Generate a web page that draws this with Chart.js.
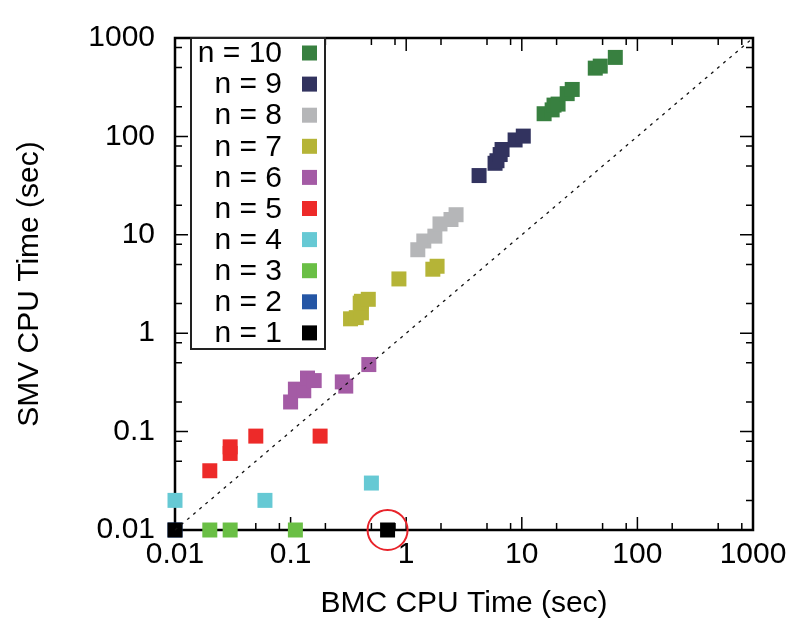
<!DOCTYPE html>
<html>
<head>
<meta charset="utf-8">
<script src="https://cdn.jsdelivr.net/npm/chart.js@4/dist/chart.umd.min.js"></script>
<style>
  html, body { margin: 0; padding: 0; background: #fff; }
  #wrap { width: 795px; height: 630px; }
</style>
</head>
<body>
<div id="wrap"><canvas id="cpuChart" width="795" height="630"></canvas></div>
<script>
// ------------------ DATA ------------------
// BMC time (x) vs SMV time (y), seconds, one pair of arrays per n
const bmcN1 = [0.01, 0.69];
const smvN1 = [0.01, 0.01];
const bmcN2 = [0.01];
const smvN2 = [0.01];
const bmcN3 = [0.02, 0.03, 0.11];
const smvN3 = [0.01, 0.01, 0.01];
const bmcN4 = [0.01, 0.06, 0.5];
const smvN4 = [0.02, 0.02, 0.03];
const bmcN5 = [0.02, 0.03, 0.03, 0.05, 0.18];
const smvN5 = [0.04, 0.06, 0.07, 0.09, 0.09];
const bmcN6 = [0.1, 0.11, 0.13, 0.14, 0.16, 0.28, 0.30, 0.475];
const smvN6 = [0.2, 0.27, 0.26, 0.35, 0.33, 0.32, 0.29, 0.48];
const bmcN7 = [0.33, 0.37, 0.41, 0.40, 0.41, 0.47, 0.865, 1.70, 1.85];
const smvN7 = [1.40, 1.44, 1.61, 2.02, 2.11, 2.21, 3.56, 4.47, 4.79];
const bmcN8 = [1.26, 1.42, 1.77, 1.96, 2.44, 2.70];
const smvN8 = [7.05, 8.65, 9.69, 12.9, 14.3, 16.0];
const bmcN9 = [4.27, 5.87, 6.1, 6.5, 6.75, 8.75, 10.3];
const smvN9 = [40, 53.3, 56.6, 65.4, 73.6, 92, 100.7];
const bmcN10 = [15.6, 18.3, 19.0, 20.6, 24.7, 27.3, 43.2, 47.7, 64.4];
const smvN10 = [170, 186, 208, 213, 272, 300, 494, 518, 635];

const seriesLabels = ['n = 1', 'n = 2', 'n = 3', 'n = 4', 'n = 5', 'n = 6', 'n = 7', 'n = 8', 'n = 9', 'n = 10'];
const seriesColors = ['#000000', '#2556a5', '#6abf45', '#66c9d4', '#ed2a29', '#a45ba5', '#b5b437', '#b5b6b8', '#32335f', '#388040'];
const bmcSeries = [bmcN1, bmcN2, bmcN3, bmcN4, bmcN5, bmcN6, bmcN7, bmcN8, bmcN9, bmcN10];
const smvSeries = [smvN1, smvN2, smvN3, smvN4, smvN5, smvN6, smvN7, smvN8, smvN9, smvN10];

// diagonal y = x and the circled point
const diagX = [0.01, 1000];
const diagY = [0.01, 1000];
const circledX = [0.69];
const circledY = [0.01];

const majorTicks = [0.01, 0.1, 1, 10, 100, 1000];
const minorMantissas = [2, 5, 8];

const FONT = '"Liberation Sans", Arial, Helvetica, sans-serif';

function toPoints(xs, ys) {
    return xs.map((x, i) => ({ x: x, y: ys[i] }));
}

// ------------------ DATASETS ------------------
// index 0 is drawn last (on top)
const datasets = [
    {
        label: 'diag',
        data: toPoints(diagX, diagY),
        showLine: true,
        borderColor: '#111',
        borderWidth: 1.3,
        borderDash: [3, 5],
        pointRadius: 0,
        clip: false
    },
    {
        label: 'circle',
        data: toPoints(circledX, circledY),
        pointStyle: 'circle',
        pointRadius: 20,
        borderColor: '#e8232a',
        borderWidth: 2,
        backgroundColor: 'rgba(0,0,0,0)',
        clip: false
    }
];
seriesLabels.forEach((lbl, i) => {
    datasets.push({
        label: lbl,
        data: toPoints(bmcSeries[i], smvSeries[i]),
        pointStyle: 'rect',
        pointRadius: 10.6,
        pointHoverRadius: 10.6,
        borderWidth: 0,
        backgroundColor: seriesColors[i],
        borderColor: seriesColors[i],
        clip: false
    });
});

// ------------------ PLUGINS ------------------
// frame + inward ticks on all four sides
const framePlugin = {
    id: 'frame',
    beforeDatasetsDraw(chart) {
        const { ctx, chartArea: a, scales } = chart;
        ctx.save();
        ctx.strokeStyle = '#000';
        ctx.lineWidth = 1.5;
        const marks = [];
        majorTicks.forEach((v, k) => {
            marks.push([v, 13]);
            if (k < majorTicks.length - 1) {
                minorMantissas.forEach(m => marks.push([v * m, 7]));
            }
        });
        ctx.beginPath();
        marks.forEach(([v, len]) => {
            const px = scales.x.getPixelForValue(v);
            ctx.moveTo(px, a.bottom); ctx.lineTo(px, a.bottom - len);
            ctx.moveTo(px, a.top); ctx.lineTo(px, a.top + len);
            const py = scales.y.getPixelForValue(v);
            ctx.moveTo(a.left, py); ctx.lineTo(a.left + len, py);
            ctx.moveTo(a.right, py); ctx.lineTo(a.right - len, py);
        });
        ctx.stroke();
        ctx.lineWidth = 2.5;
        ctx.strokeRect(a.left, a.top, a.right - a.left, a.bottom - a.top);
        ctx.restore();
    }
};

// legend box inside the plot, n = 10 on top
const legendPlugin = {
    id: 'boxLegend',
    afterDraw(chart) {
        const ctx = chart.ctx;
        const boxLeft = 191, boxTop = 38, boxW = 134, rowH = 31.1, firstRow = 53;
        ctx.save();
        ctx.fillStyle = '#fff';
        ctx.fillRect(boxLeft, boxTop, boxW, 311);
        ctx.strokeStyle = '#222';
        ctx.lineWidth = 2;
        ctx.strokeRect(boxLeft, boxTop, boxW, 311);
        ctx.font = '30px ' + FONT;
        ctx.textAlign = 'right';
        ctx.textBaseline = 'middle';
        for (let i = seriesLabels.length - 1, row = 0; i >= 0; i--, row++) {
            const y = firstRow + row * rowH;
            ctx.fillStyle = '#000';
            ctx.fillText(seriesLabels[i], 282, y + 1);
            ctx.fillStyle = seriesColors[i];
            ctx.fillRect(302, y - 7.5, 15, 15);
        }
        ctx.restore();
    }
};

// ------------------ CHART ------------------
const logAxis = (titleText, isX) => ({
    type: 'logarithmic',
    min: 0.01,
    max: 1000,
    afterBuildTicks: scale => { scale.ticks = majorTicks.map(v => ({ value: v })); },
    afterFit: scale => {
        if (isX) scale.height = 100; else scale.width = 175;
    },
    grid: { display: false, drawTicks: false },
    border: { display: false },
    ticks: {
        autoSkip: false,
        maxRotation: 0,
        padding: isX ? 7 : 20,
        color: '#000',
        font: { family: FONT, size: 30 },
        callback: v => String(v)
    },
    title: {
        display: true,
        text: titleText,
        color: '#000',
        font: { family: FONT, size: 30 },
        padding: isX ? { top: 0, bottom: 8 } : { top: 12, bottom: 0 }
    }
});

new Chart(document.getElementById('cpuChart').getContext('2d'), {
    type: 'scatter',
    data: { datasets: datasets },
    options: {
        responsive: false,
        animation: false,
        layout: { padding: { left: 0, right: 42, top: 23, bottom: 0 } },
        plugins: { legend: { display: false }, tooltip: { enabled: false } },
        scales: {
            x: logAxis('BMC CPU Time (sec)', true),
            y: logAxis('SMV CPU Time (sec)', false)
        }
    },
    plugins: [framePlugin, legendPlugin]
});
</script>
</body>
</html>
